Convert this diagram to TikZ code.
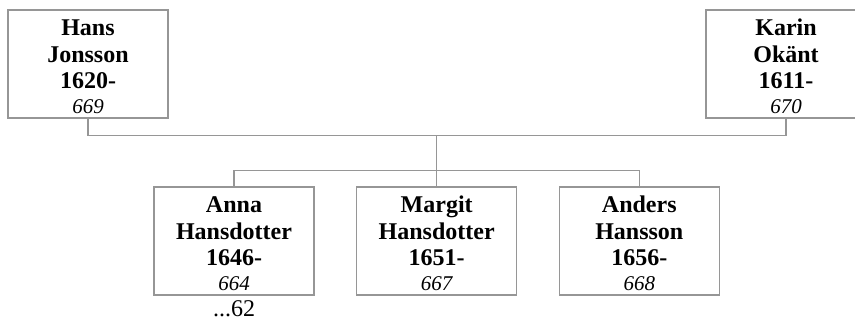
\documentclass[tikz,border=0pt]{standalone}
\usepackage{fontspec}
\setmainfont{Liberation Serif}
\definecolor{lc}{RGB}{150,150,150}
\newcommand\famperson[7]{%
  \node[box] (#1) at (#2,#3+54) {};
  \node[nm] (#1-a) at (#2,#3+25.5) {#4};
  \node[nm] (#1-b) at (#2,#3+52) {#5};
  \node[nm] (#1-c) at (#2,#3+78) {#6};
  \node[num] (#1-d) at (#2,#3+103) {#7};
}
\begin{document}
\begin{tikzpicture}[x=1pt,y=-1pt,
  box/.style={draw=lc, line width=1.3pt, minimum width=160pt, minimum height=108pt, inner sep=0pt, outer sep=0pt},
  ln/.style={draw=lc, line width=1.3pt},
  nm/.style={anchor=base, font=\fontsize{24}{26}\selectfont\bfseries, inner sep=0pt},
  num/.style={anchor=base, font=\fontsize{21}{22}\selectfont\itshape, inner sep=0pt}]
\useasboundingbox (0,0) rectangle (855,322);
\famperson{hans}{88}{10}{Hans}{Jonsson}{1620-}{669}
\famperson{karin}{786}{10}{Karin}{Okänt}{1611-}{670}
\famperson{anna}{234}{187}{Anna}{Hansdotter}{1646-}{664}
\famperson{margit}{436.7}{187}{Margit}{Hansdotter}{1651-}{667}
\famperson{anders}{639.3}{187}{Anders}{Hansson}{1656-}{668}
\node[anchor=base, font=\fontsize{24}{26}\selectfont, inner sep=0pt] (more) at (234,316.5) {...62};
\coordinate (pbar) at (436.7,135.7);
\coordinate (cbar) at (436.7,170.7);
\draw[ln] (hans.south) |- (pbar) -| (karin.south);
\draw[ln] (pbar) -- (cbar);
\draw[ln] (anna.north) |- (cbar) -| (anders.north);
\draw[ln] (cbar) -- (margit.north);
\end{tikzpicture}
\end{document}
